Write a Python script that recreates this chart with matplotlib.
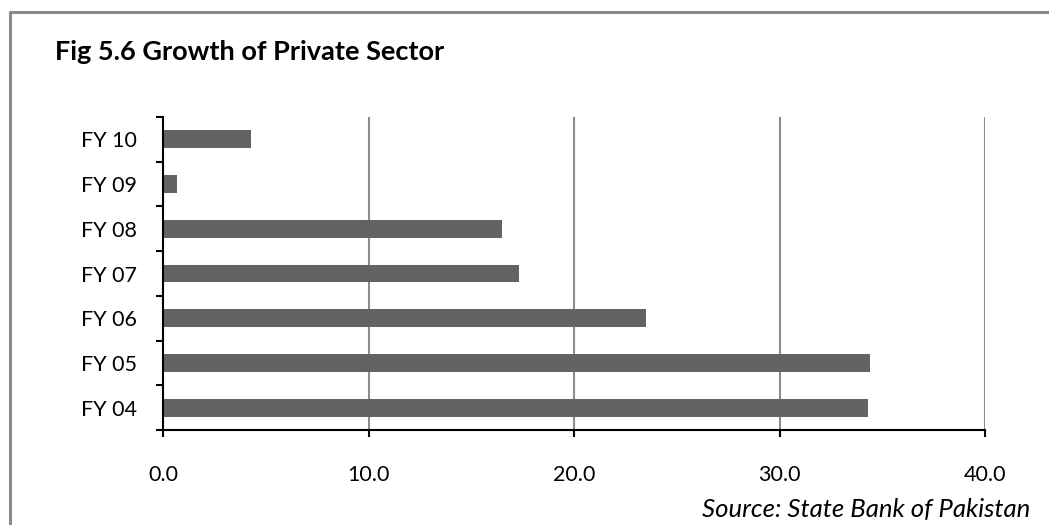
import numpy as np
import matplotlib
matplotlib.use('Agg')
import matplotlib.pyplot as plt
from matplotlib.lines import Line2D
from matplotlib.ticker import FixedLocator

# Data
years = ['FY 04', 'FY 05', 'FY 06', 'FY 07', 'FY 08', 'FY 09', 'FY 10']
growth = [34.3, 34.4, 23.5, 17.3, 16.5, 0.7, 4.3]
x_ticks = [0, 10, 20, 30, 40]
x_tick_labels = ['0.0', '10.0', '20.0', '30.0', '40.0']

TITLE = 'Fig 5.6 Growth of Private Sector'
SOURCE = 'Source: State Bank of Pakistan'

W, H, DPI = 1049, 525, 100
plt.rcParams['font.family'] = ['Lato', 'DejaVu Sans']

fig = plt.figure(figsize=(W / DPI, H / DPI), dpi=DPI)
fig.patch.set_facecolor('white')

# plot area in pixels: x 163..985, y 117..430
left, right, top, bottom = 163, 985, 117, 430
ax = fig.add_axes([left / W, 1 - bottom / H, (right - left) / W, (bottom - top) / H])

pos = np.arange(len(years))
ax.barh(pos, growth, height=0.4, color='#636363', zorder=3)

ax.set_xlim(0, 40)
ax.set_ylim(-0.5, len(years) - 0.5)

ax.set_xticks(x_ticks)
ax.set_xticklabels(x_tick_labels)
ax.set_yticks(pos)
ax.set_yticklabels(years)
ax.yaxis.set_minor_locator(FixedLocator(np.arange(-0.5, len(years), 1.0)))

ax.tick_params(axis='y', which='major', length=0, pad=18.7, labelsize=15.5, colors='black')
ax.tick_params(axis='y', which='minor', length=5, width=1.5, direction='out')
ax.tick_params(axis='x', which='major', length=5, width=1.5, direction='out', pad=20, labelsize=15.5)

for s in ['top', 'right']:
    ax.spines[s].set_visible(False)
ax.spines['left'].set_linewidth(1.5)
ax.spines['bottom'].set_linewidth(1.5)
ax.spines['left'].set_zorder(4)
ax.spines['bottom'].set_zorder(4)

# vertical gridlines
for v in x_ticks[1:]:
    ax.axvline(v, color='#8c8c8c', linewidth=1.5, zorder=1)

# outer frame (top and left edges visible)
fig.add_artist(Line2D([9.5 / W, 9.5 / W, 1.0], [0.0, 1 - 12 / H, 1 - 12 / H],
                      transform=fig.transFigure, color='#8a8a8a', linewidth=2.2))

fig.text(55 / W, 1 - 60 / H, TITLE, fontsize=19.5, fontweight='bold', va='baseline', ha='left')
fig.text(1030 / W, 1 - 517 / H, SOURCE, fontsize=18.5, style='italic', va='baseline', ha='right')

fig.savefig('out.png', dpi=DPI, facecolor='white')
